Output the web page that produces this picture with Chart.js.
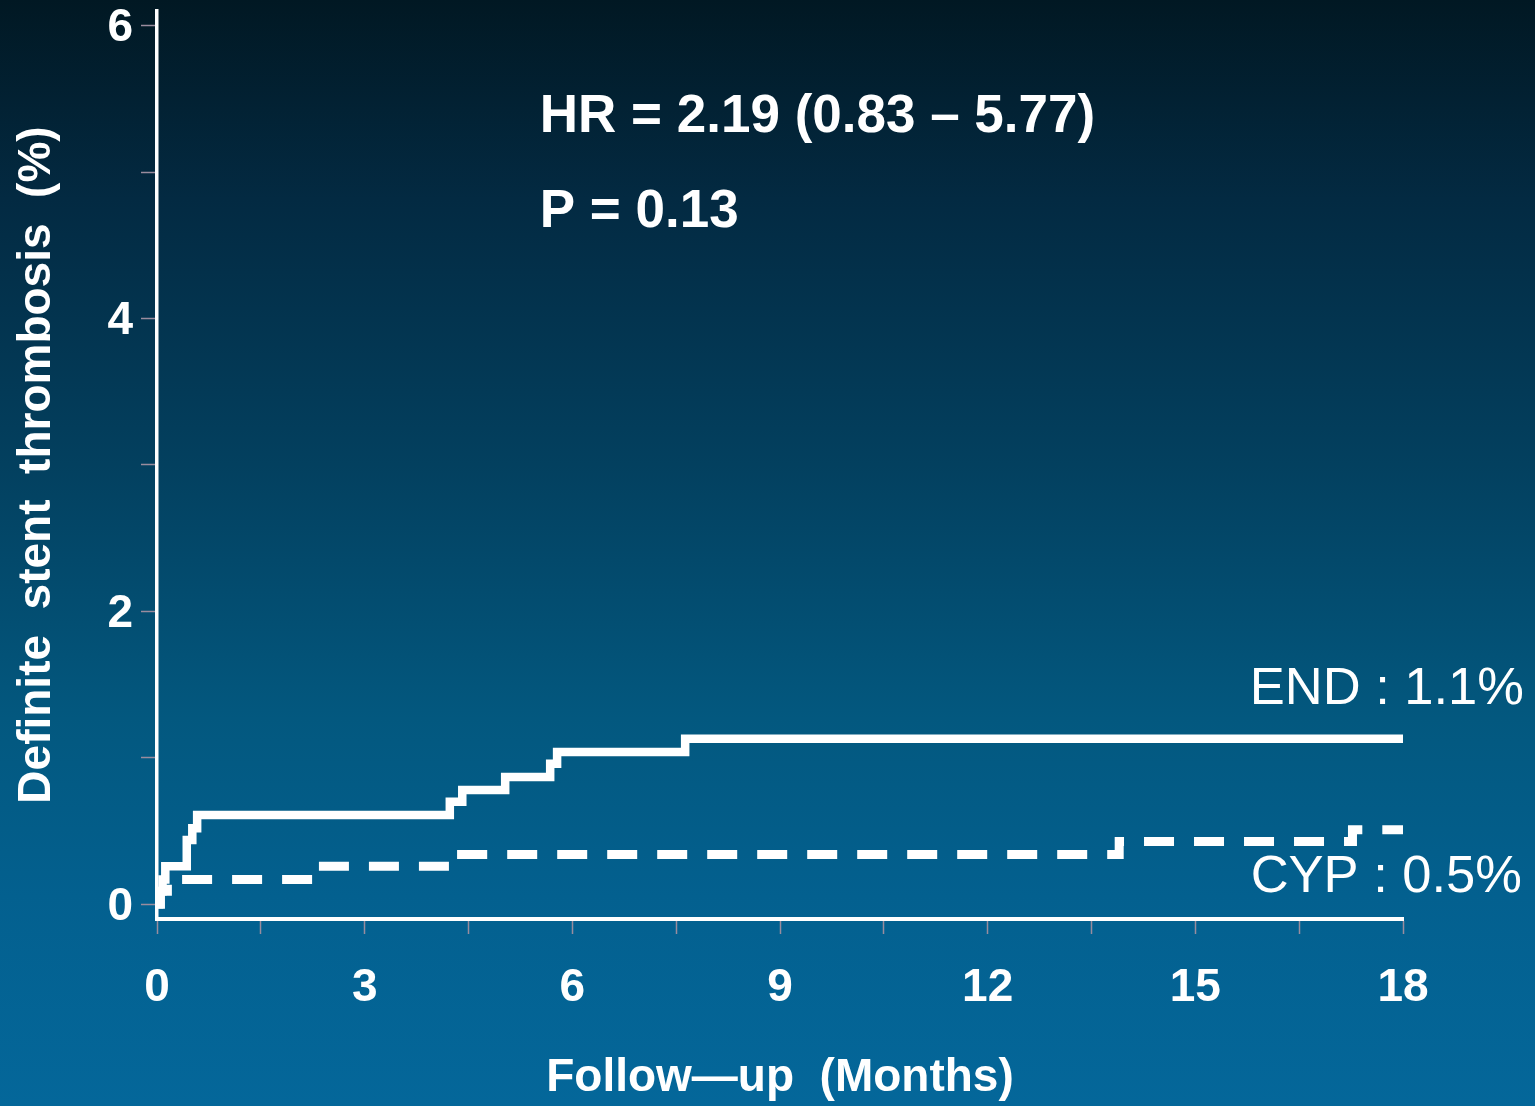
<!DOCTYPE html>
<html>
<head>
<meta charset="utf-8">
<script src="https://cdn.jsdelivr.net/npm/chart.js@4.4.1/dist/chart.umd.min.js"></script>
<style>
    html, body { margin: 0; padding: 0; }
    body {
        width: 1535px; height: 1106px; overflow: hidden;
        background: linear-gradient(to bottom, #011823 0%, #032a42 18%, #03405f 42%, #03587f 65%, #03608f 81%, #04679a 100%);
    }
    canvas { display: block; }
</style>
</head>
<body>
<canvas id="kmChart" width="1535" height="1106"></canvas>
<script>
// tick positions
const monthTicks = [0, 1.5, 3, 4.5, 6, 7.5, 9, 10.5, 12, 13.5, 15, 16.5, 18];
const percentTicks = [0, 1, 2, 3, 4, 5, 6];

// Kaplan-Meier steps (month of event, cumulative % after event)
const endMonths = [0, 0.03, 0.08, 0.12, 0.43, 0.51, 0.58, 4.23, 4.41, 5.03, 5.68, 5.78, 7.63, 18];
const endValues = [0, 0.09, 0.17, 0.26, 0.44, 0.52, 0.61, 0.70, 0.78, 0.87, 0.96, 1.04, 1.13, 1.13];

const cypMonths = [0, 0.05, 0.15, 2.30, 4.40, 13.90, 17.27, 18];
const cypValues = [0, 0.09, 0.17, 0.26, 0.34, 0.43, 0.51, 0.51];

const statLines = ['HR = 2.19 (0.83 \u2013 5.77)', 'P = 0.13'];
const endLabel = 'END : 1.1%';
const cypLabel = 'CYP : 0.5%';

const FONT = '"Liberation Sans", Arial, Helvetica, sans-serif';

function toPoints(xs, ys) {
    return xs.map((x, i) => ({ x: x, y: ys[i] }));
}

// texts on the plot
const textNotes = {
    id: 'textNotes',
    afterDraw(chart) {
        const { ctx, scales: { x, y } } = chart;
        ctx.save();
        ctx.fillStyle = '#ffffff';
        ctx.textBaseline = 'middle';
        ctx.textAlign = 'left';
        ctx.font = 'bold 53px ' + FONT;
        ctx.fillText(statLines[0], x.getPixelForValue(5.53), y.getPixelForValue(5.375));
        ctx.fillText(statLines[1], x.getPixelForValue(5.53), y.getPixelForValue(4.727));

        ctx.textAlign = 'right';
        ctx.font = '52.5px ' + FONT;
        ctx.fillText(endLabel, chart.width - 11, y.getPixelForValue(1.465));
        ctx.fillText(cypLabel, chart.width - 13, y.getPixelForValue(0.18));
        ctx.restore();
    }
};

const ctx = document.getElementById('kmChart').getContext('2d');
const kmChart = new Chart(ctx, {
    type: 'line',
    data: {
        datasets: [
            {
                label: 'END',
                data: toPoints(endMonths, endValues),
                borderColor: '#ffffff',
                borderWidth: 8.5,
                borderCapStyle: 'round',
                stepped: true,
                pointRadius: 0,
                fill: false
            },
            {
                label: 'CYP',
                data: toPoints(cypMonths, cypValues),
                borderColor: '#ffffff',
                borderWidth: 9,
                borderDash: [30, 20],
                borderDashOffset: 0,
                stepped: true,
                pointRadius: 0,
                fill: false
            }
        ]
    },
    options: {
        responsive: false,
        animation: false,
        events: [],
        layout: { padding: { top: 11, right: 132, left: 0, bottom: 0 } },
        plugins: {
            legend: { display: false },
            tooltip: { enabled: false }
        },
        scales: {
            x: {
                type: 'linear',
                min: 0,
                max: 18,
                afterBuildTicks: s => { s.ticks = monthTicks.map(v => ({ value: v })); },
                afterFit: s => { s.height = 1106 - 919; s.paddingLeft = 0; s.paddingRight = 0; },
                ticks: {
                    autoSkip: false,
                    maxRotation: 0,
                    padding: 27,
                    color: '#ffffff',
                    font: { family: FONT, size: 46, weight: 'bold' },
                    callback: v => (v % 3 === 0 ? String(v) : '')
                },
                grid: {
                    drawOnChartArea: false,
                    drawTicks: true,
                    tickLength: 15,
                    tickColor: '#9a8c9e',
                    tickWidth: 1.5
                },
                border: { color: '#ffffff', width: 4 },
                title: {
                    display: true,
                    text: 'Follow\u2014up  (Months)',
                    color: '#ffffff',
                    font: { family: FONT, size: 46, weight: 'bold', lineHeight: 1 },
                    padding: { top: 0, bottom: 5 }
                }
            },
            y: {
                type: 'linear',
                min: -0.1,
                max: 6.1,
                afterBuildTicks: s => { s.ticks = percentTicks.map(v => ({ value: v })); },
                afterFit: s => { s.width = 157; s.paddingTop = 0; s.paddingBottom = 0; },
                ticks: {
                    autoSkip: false,
                    padding: 8,
                    labelOffset: 3,
                    color: '#ffffff',
                    font: { family: FONT, size: 46, weight: 'bold' },
                    callback: v => (v % 2 === 0 ? String(v) : '')
                },
                grid: {
                    drawOnChartArea: false,
                    drawTicks: true,
                    tickLength: 16,
                    tickColor: '#9a8c9e',
                    tickWidth: 1.5
                },
                border: { color: '#ffffff', width: 3.5 },
                title: {
                    display: true,
                    text: 'Definite  stent  thrombosis  (%)',
                    color: '#ffffff',
                    font: { family: FONT, size: 46, weight: 'bold', lineHeight: 1 },
                    padding: { top: 14, bottom: 0 }
                }
            }
        }
    },
    plugins: [textNotes]
});
</script>
</body>
</html>
